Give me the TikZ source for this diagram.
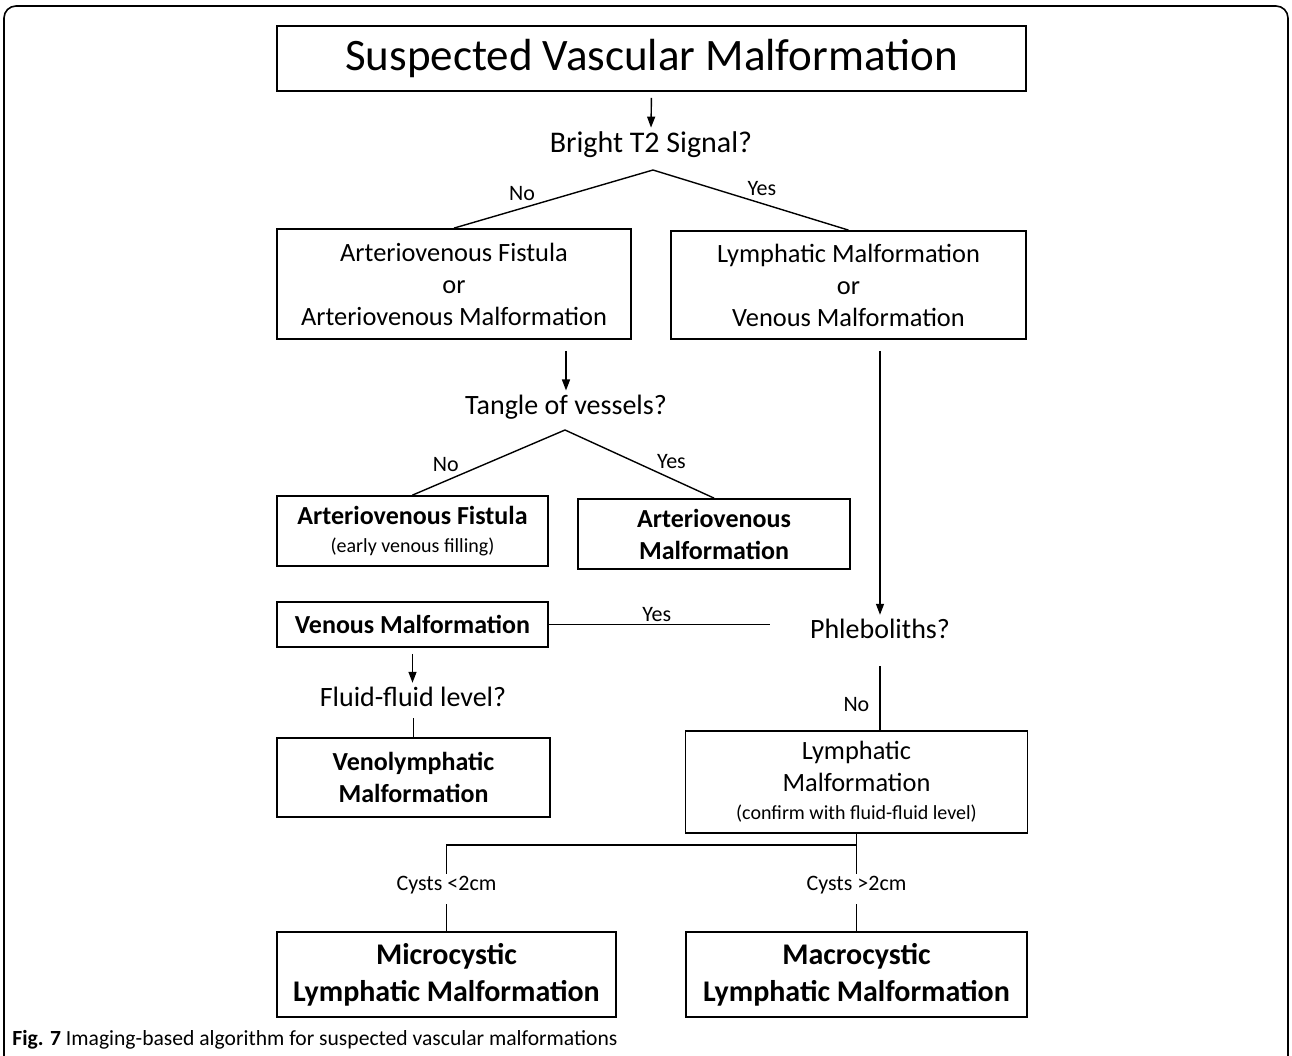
\documentclass[tikz,border=0pt]{standalone}
\usepackage{fontspec}
\setmainfont{Carlito}
\usetikzlibrary{arrows.meta,positioning}

\tikzset{
  box/.style={draw, line width=0.9pt, align=center, inner sep=0pt, font=\fontsize{13.2}{16}\selectfont},
  boldbox/.style={box, font=\fontsize{13}{16}\selectfont\bfseries},
  bigbox/.style={box, font=\fontsize{15}{18.5}\selectfont\bfseries},
  question/.style={inner sep=2pt, font=\fontsize{14}{17}\selectfont},
  answer/.style={inner sep=1pt, font=\fontsize{11}{13}\selectfont},
  link/.style={line width=0.7pt},
  arr/.style={link, -{Triangle[length=5.5pt,width=4pt]}}
}

\begin{document}
\begin{tikzpicture}[x=0.5pt,y=-0.5pt]
    \useasboundingbox (0,0) rectangle (1292,1056);
    % outer frame
    \draw[line width=0.8pt, rounded corners=6pt] (4,1080) -- (4,6) -- (1288,6) -- (1288,1080);

    % boxes and questions
    \node[box, minimum width=374.5pt, minimum height=32.5pt, font=\fontsize{22.5}{27}\selectfont] (title) at (651.5,58.5) {Suspected Vascular Malformation};
    \node[question, font=\fontsize{15}{18}\selectfont] (bright) at (651,145) {Bright T2 Signal?};
    \node[box, minimum width=177pt, minimum height=55pt] (avfavm) at (454,284) {Arteriovenous Fistula\\or\\Arteriovenous Malformation};
    \node[box, minimum width=177.5pt, minimum height=54pt] (lmvm) at (848.5,285) {Lymphatic Malformation\\or\\Venous Malformation};
    \node[question] (tangle) at (566,407) {Tangle of vessels?};
    \node[boldbox, minimum width=135.5pt, minimum height=35pt] (avf) at (412.5,531) {Arteriovenous Fistula\\[-2pt]{\fontsize{10}{12}\selectfont\mdseries (early venous filling)}};
    \node[boldbox, minimum width=136pt, minimum height=35pt] (avm) at (714,534) {Arteriovenous\\Malformation};
    \node[question] (phleb) at (880,629) {Phleboliths?};
    \node[boldbox, minimum width=135.5pt, minimum height=22.5pt] (vm) at (412.5,624.5) {Venous Malformation};
    \node[question] (fluid) at (413,697) {Fluid-fluid level?};
    \node[boldbox, minimum width=136.5pt, minimum height=39.5pt] (vlm) at (413.5,777.5) {Venolymphatic\\Malformation};
    \node[box, minimum width=171pt, minimum height=51pt] (lm) at (856.5,782) {Lymphatic\\Malformation\\[-2pt]{\fontsize{10}{12}\selectfont (confirm with fluid-fluid level)}};
    \node[answer] (small) at (446.5,885) {Cysts <2cm};
    \node[answer] (large) at (856.5,885) {Cysts >2cm};
    \node[bigbox, minimum width=169.5pt, minimum height=42.5pt] (micro) at (446.5,974.5) {Microcystic\\Lymphatic Malformation};
    \node[bigbox, minimum width=170.5pt, minimum height=42.5pt] (macro) at (856.5,974.5) {Macrocystic\\Lymphatic Malformation};
    \node[anchor=west, inner sep=0pt, font=\fontsize{10.8}{13}\selectfont] (caption) at (12,1040) {\textbf{Fig. 7} Imaging-based algorithm for suspected vascular malformations};

    % connectors
    \coordinate (fork1) at (653,170);
    \coordinate (fork2) at (565,430);
    \coordinate (split) at (856.5,845);
    \draw[arr, shorten <=3pt] (title.south) -- (bright.north);
    \draw[link] (fork1) -- node[answer, pos=0.58, above left] {No} (avfavm.north);
    \draw[link] (fork1) -- node[answer, pos=0.47, above right] {Yes} (lmvm.north);
    \draw[arr, shorten <=5.5pt] (avfavm.south -| tangle.north) -- (tangle.north);
    \draw[link] (fork2) -- node[answer, pos=0.68, above left] {No} (avf.north);
    \draw[link] (fork2) -- node[answer, pos=0.6, above right] {Yes} (avm.north);
    \draw[arr, shorten <=5.5pt] (lmvm.south -| phleb.north) -- (phleb.north);
    \draw[link, shorten >=18pt] (vm.east) -- node[answer, pos=0.42, above] {Yes} (vm.east -| phleb.west);
    \draw[arr, shorten <=3pt] (vm.south) -- (vm.south |- fluid.north);
    \draw[link, shorten <=3.5pt] (fluid.south -| vlm.north) -- (vlm.north);
    \draw[link, shorten <=11.5pt] (phleb.south) -- node[answer, pos=0.7, left=4pt] {No} (phleb.south |- lm.north);
    \draw[link] (lm.south) -- (split) -| (small.north);
    \draw[link] (split) -- (large.north);
    \draw[link, shorten <=4pt] (small.south) -- (micro.north);
    \draw[link, shorten <=4pt] (large.south) -- (macro.north);
\end{tikzpicture}
\end{document}
